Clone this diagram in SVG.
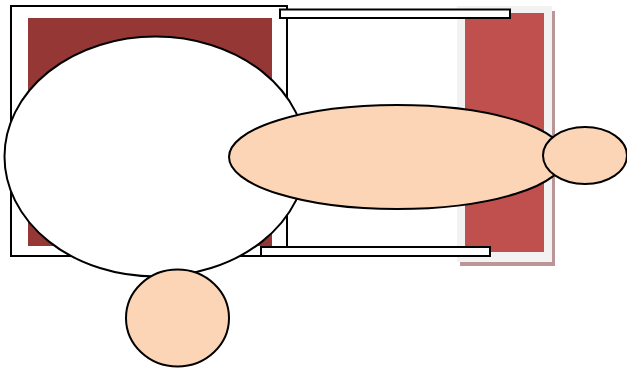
<svg xmlns="http://www.w3.org/2000/svg" width="627" height="369" viewBox="0 0 627 369">
<style>
.ln{stroke:#000;stroke-width:2;}
.bar{fill:#fff;stroke:#000;stroke-width:2;}
.peach{fill:#FBD5B5;stroke:#000;stroke-width:2;}
</style>
<rect width="627" height="369" fill="#fff"/>
<g id="frame-left">
<rect x="11" y="6" width="276" height="250" fill="#fff" class="ln"/>
<rect x="28" y="18" width="244" height="228" fill="#953735"/>
</g>
<g id="column-right">
<rect x="460" y="11" width="95" height="255" fill="#BA9698"/>
<rect x="457" y="6" width="95" height="256" fill="#F2F2F2"/>
<rect x="465" y="13" width="79" height="239" fill="#C0504D"/>
</g>
<g id="bar-top"><rect x="280" y="9.5" width="230" height="8.5" class="bar"/></g>
<g id="bar-bottom"><rect x="261" y="247" width="229" height="9" class="bar"/></g>
<g id="ellipse-big"><ellipse cx="155.5" cy="156.5" rx="151" ry="120" fill="#fff" class="ln"/></g>
<g id="ellipse-wide"><ellipse cx="397" cy="157" rx="168" ry="52" class="peach"/></g>
<g id="ellipse-small"><ellipse cx="585" cy="155.5" rx="42" ry="28.5" class="peach"/></g>
<g id="circle-bottom"><ellipse cx="177.5" cy="318" rx="51.5" ry="48.5" class="peach"/></g>
<g id="connectors"></g>
</svg>
